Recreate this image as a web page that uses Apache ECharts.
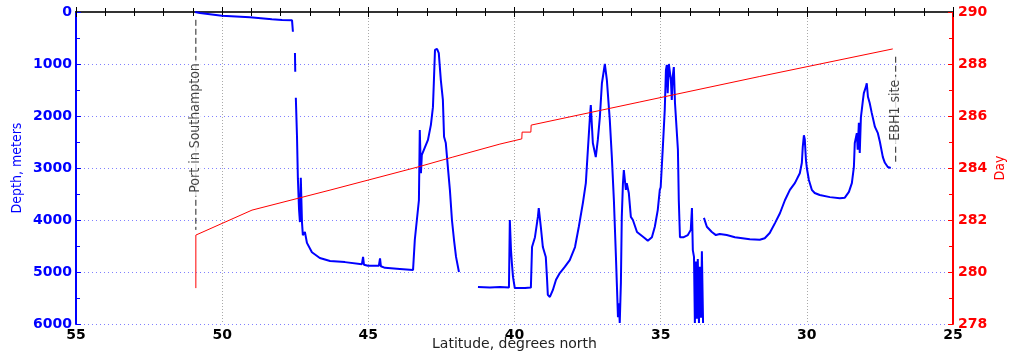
<!DOCTYPE html>
<html>
<head>
<meta charset="utf-8">
<script src="https://cdn.jsdelivr.net/npm/echarts@6/dist/echarts.min.js"></script>
<style>
  html, body { margin: 0; padding: 0; background: #fff; }
  #chart { width: 1010px; height: 355px; }
</style>
</head>
<body>
<div id="chart"></div>
<script>
// Ship track: latitude (degrees north) and bottom depth (m); null depth = gap in the record
const trackLat = [
  50.93, 50.76, 50.01, 49.05, 48.30, 47.95, 47.61, 47.58, 47.55,
  47.51, 47.50, 47.49,
  47.48, 47.44, 47.41, 47.37, 47.34, 47.31, 47.27, 47.24, 47.17, 47.10, 46.93, 46.66, 46.31,
  45.80, 45.22, 45.18, 45.15, 45.01, 44.64, 44.60, 44.57, 44.43, 43.92, 43.47, 43.41, 43.34,
  43.27, 43.24, 43.20, 43.17, 43.10, 42.96, 42.86, 42.79, 42.76, 42.72, 42.65, 42.59, 42.52,
  42.45, 42.41, 42.35, 42.28, 42.21, 42.14, 42.07, 42.00, 41.90, 41.60,
  41.25, 40.84, 40.50, 40.19, 40.16, 40.12, 40.09, 40.05, 39.99, 39.64, 39.44, 39.40, 39.30,
  39.20, 39.17, 39.10, 39.03, 38.93, 38.89, 38.86, 38.79, 38.69, 38.58, 38.45, 38.28, 38.11,
  37.93, 37.80, 37.66, 37.56, 37.49, 37.42, 37.39, 37.32, 37.22, 37.15, 37.08, 37.01, 36.91,
  36.84, 36.74, 36.67, 36.60, 36.53, 36.50, 36.46, 36.43, 36.40, 36.36, 36.33, 36.29, 36.26,
  36.19, 36.16, 36.09, 36.02, 35.95, 35.81, 35.54, 35.44, 35.30, 35.20, 35.10, 35.03, 35.00,
  34.93, 34.86, 34.82, 34.79, 34.76, 34.72, 34.65, 34.62, 34.59, 34.55, 34.51, 34.48, 34.41,
  34.38, 34.34, 34.21, 34.07, 33.97, 33.93, 33.90, 33.86, 33.83, 33.79, 33.76, 33.73, 33.69,
  33.66, 33.62, 33.59, 33.55, 33.535,
  33.52, 33.42, 33.25, 33.11, 32.98, 32.74, 32.46, 31.95, 31.61, 31.44, 31.27, 31.09, 30.92,
  30.75, 30.58, 30.41, 30.24, 30.17, 30.14, 30.10, 30.07, 30.03, 30.00, 29.93, 29.83, 29.73,
  29.56, 29.21, 28.87, 28.70, 28.56, 28.46, 28.39, 28.36, 28.29, 28.26, 28.22, 28.19, 28.15,
  28.12, 28.08, 28.05, 27.98, 27.95, 27.91, 27.85, 27.78, 27.67, 27.57, 27.50, 27.40, 27.33,
  27.23, 27.13
];
const trackDepth = [
  0, 20, 70, 100, 140, 155, 160, 380, null,
  790, 1150, null,
  1650, 2400, 3200, 3800, 4040, 3190, 4040, 4290, 4230, 4440, 4620, 4730, 4790,
  4810, 4850, 4710, 4860, 4880, 4880, 4740, 4890, 4920, 4940, 4960, 4380, 4000,
  3620, 2270, 3100, 2750, 2650, 2460, 2170, 1830, 1370, 730, 710, 790, 1310,
  1690, 2400, 2520, 2980, 3420, 4000, 4380, 4710, 5000, null,
  5290, 5300, 5290, 5300, 4000, 4580, 4830, 5100, 5310, 5310, 5300, 4520, 4330,
  3940, 3770, 4130, 4520, 4710, 5100, 5440, 5480, 5350, 5150, 5020, 4900, 4770,
  4520, 4130, 3670, 3290, 2650, 2020, 1790, 2520, 2790, 2460, 2020, 1370, 1000,
  1310, 2080, 2790, 3620, 4710, 5210, 5870, 5600, 5980, 5200, 3940, 3290, 3040,
  3420, 3290, 3480, 3940, 4000, 4230, 4350, 4400, 4330, 4130, 3810, 3420, 3370,
  2650, 1880, 1120, 1020, 1560, 1000, 1310, 1690, 1250, 1060, 1750, 2020, 2650,
  3620, 4330, 4330, 4290, 4190, 3770, 4580, 4710, 5980, 4800, 5900, 4750, 5980,
  4900, 5880, 4600, 5980, null,
  3960, 4130, 4230, 4290, 4270, 4290, 4330, 4370, 4380, 4350, 4250, 4060, 3870,
  3620, 3420, 3290, 3100, 2900, 2600, 2370, 2450, 2850, 3000, 3230, 3420, 3480,
  3520, 3560, 3580, 3570, 3460, 3290, 2980, 2520, 2330, 2650, 2130, 2710, 2020,
  1880, 1690, 1560, 1440, 1370, 1630, 1750, 1940, 2210, 2330, 2500, 2790, 2900,
  2980, 3000
];

// Day of year along the track
const dayLat = [50.90, 50.90, 48.98, 46.31, 43.30, 42.11, 42.10, 40.50, 39.75, 39.74, 39.44, 39.43, 35.71, 31.61, 27.06];
const dayVal = [279.38, 281.42, 282.38, 283.15, 284.04, 284.42, 284.46, 284.92, 285.12, 285.38, 285.38, 285.65, 286.54, 287.52, 288.58];

// Annotated positions along the track
const siteLat = [50.90, 26.96];
const siteName = ['Port in Southampton', 'EBH1 site'];
const siteTop = [150, 860];
const siteBottom = [4190, 2890];
const siteLabelDepth = [2230, 1890];

const NARROW = "'Liberation Sans Narrow', 'DejaVu Sans Condensed', 'Arial Narrow', sans-serif";
const TICKFONT = "'DejaVu Sans', sans-serif";

const depthData = trackLat.map((x, i) => [x, trackDepth[i] === null ? '-' : trackDepth[i]]);
const dayData = dayLat.map((x, i) => [x, dayVal[i]]);

const siteSeries = [];
siteLat.forEach((lat, i) => {
  siteSeries.push({
    type: 'line', xAxisIndex: 0, yAxisIndex: 0, showSymbol: false, silent: true, z: 3,
    lineStyle: { color: '#222', width: 1, type: [6, 3] },
    data: [[lat, siteTop[i]], [lat, siteBottom[i]]]
  });
  siteSeries.push({
    type: 'scatter', xAxisIndex: 0, yAxisIndex: 0, symbolSize: 1, silent: true, z: 4,
    itemStyle: { color: 'rgba(0,0,0,0)' },
    label: {
      show: true, position: 'inside', rotate: 90, formatter: siteName[i],
      backgroundColor: '#fff', padding: [0, 3], color: '#111',
      fontFamily: NARROW, fontSize: 14
    },
    data: [[lat, siteLabelDepth[i]]]
  });
});

const plain = v => String(v);

const chart = echarts.init(document.getElementById('chart'), null, { renderer: 'canvas' });
chart.setOption({
  animation: false,
  backgroundColor: '#fff',
  grid: { left: 76, right: 57, top: 12, bottom: 31, outerBoundsMode: 'none', containLabel: false },
  xAxis: [
    {
      type: 'value', min: 25, max: 55, interval: 5, inverse: true, position: 'bottom',
      axisLine: { lineStyle: { color: '#000', width: 2 } },
      axisTick: { inside: true, length: 5, lineStyle: { color: '#000' } },
      minorTick: { show: true, splitNumber: 5, length: 4, lineStyle: { color: '#000' } },
      axisLabel: { color: '#000', fontFamily: TICKFONT, fontWeight: 'bold', fontSize: 14, margin: 4, formatter: plain },
      splitLine: { show: true, lineStyle: { type: [1, 2], color: '#aaa' } },
      name: 'Latitude, degrees north', nameLocation: 'middle', nameGap: 13, nameMoveOverlap: false,
      nameTextStyle: { color: '#222', fontFamily: TICKFONT, fontSize: 14 }
    },
    {
      type: 'value', min: 25, max: 55, interval: 5, inverse: true, position: 'top',
      axisLine: { lineStyle: { color: '#333', width: 2 } },
      axisTick: { inside: true, length: 5, lineStyle: { color: '#000' } },
      minorTick: { show: true, splitNumber: 5, length: 4, lineStyle: { color: '#000' } },
      axisLabel: { show: false },
      splitLine: { show: false }
    }
  ],
  yAxis: [
    {
      type: 'value', min: 0, max: 6000, interval: 1000, inverse: true, position: 'left',
      axisLine: { show: true, lineStyle: { color: '#0000ff', width: 2 } },
      axisTick: { show: true, inside: true, length: 5 },
      minorTick: { show: true, splitNumber: 2, length: 4 },
      axisLabel: { color: '#0000ff', fontFamily: TICKFONT, fontWeight: 'bold', fontSize: 14, margin: 4, formatter: plain },
      splitLine: { show: true, lineStyle: { type: [1, 3], color: '#8080ff' } },
      name: 'Depth, meters', nameLocation: 'middle', nameGap: 52, nameMoveOverlap: false,
      nameTextStyle: { color: '#0000ff', fontFamily: NARROW, fontSize: 14 }
    },
    {
      type: 'value', min: 278, max: 290, interval: 2, position: 'right',
      axisLine: { show: true, lineStyle: { color: '#ff0000', width: 2 } },
      axisTick: { show: true, inside: true, length: 5 },
      minorTick: { show: true, splitNumber: 2, length: 4 },
      axisLabel: { color: '#ff0000', fontFamily: TICKFONT, fontWeight: 'bold', fontSize: 14, margin: 5, formatter: plain },
      splitLine: { show: false },
      name: 'Day', nameLocation: 'middle', nameGap: 40, nameMoveOverlap: false,
      nameTextStyle: { color: '#ff0000', fontFamily: NARROW, fontSize: 14 }
    }
  ],
  series: [
    {
      name: 'Depth', type: 'line', xAxisIndex: 0, yAxisIndex: 0,
      showSymbol: false, connectNulls: false, z: 5,
      lineStyle: { color: '#0000ff', width: 2 },
      data: depthData
    },
    {
      name: 'Day', type: 'line', xAxisIndex: 0, yAxisIndex: 1,
      showSymbol: false, z: 6,
      lineStyle: { color: '#ff0000', width: 1 },
      data: dayData
    }
  ].concat(siteSeries)
});
</script>
</body>
</html>
